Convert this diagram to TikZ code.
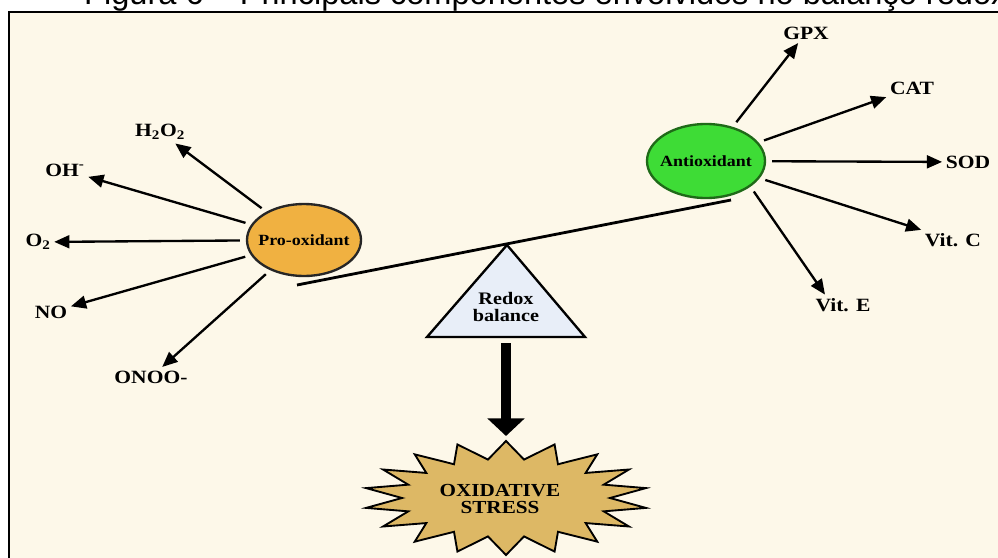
\documentclass[tikz,border=0pt]{standalone}
\usepackage{fontspec}
\setmainfont{Liberation Serif}[FakeStretch=1.15]
\newfontfamily\capfont{Liberation Sans}
\usetikzlibrary{arrows.meta,shapes.geometric}

\definecolor{cream}{HTML}{FDF8E9}
\definecolor{proorange}{HTML}{F0B141}
\definecolor{antigreen}{HTML}{3EDC36}
\definecolor{antiedge}{HTML}{1F6A18}
\definecolor{triblue}{HTML}{E8EEF8}
\definecolor{stargold}{HTML}{DDB865}

\tikzset{
	lbl/.style={font=\bfseries\fontsize{16}{18}\selectfont, inner sep=3pt},
	arr/.style={line width=2pt, -{Triangle[length=13pt,width=11pt]}, shorten <=5pt},
	blob/.style={ellipse, line width=2pt, inner sep=0pt, font=\bfseries\fontsize{13.3}{15}\selectfont},
	bigarr/.style={line width=8.5pt, -{Triangle[length=15pt,width=31pt]}},
}

\begin{document}
\begin{tikzpicture}[x=0.03cm,y=-0.03cm]
	\useasboundingbox (0,0) rectangle (998,558);
	\clip (0,0) rectangle (998,558);

	% caption (cut off at the top) and frame
	\node[font=\capfont\fontsize{27.8}{30}\selectfont, anchor=base west, inner sep=0pt] (caption) at (84,4) {Figura 6 – Principais componentes envolvidos no balanço redox};
	\draw[fill=cream, line width=2pt] (9,12) rectangle (1030,590);

	% the balance
	\draw[line width=2.4pt] (297,285) -- (731,200);
	\draw[fill=triblue, line width=2pt] (507,245) -- (427,337) -- (585,337) -- cycle;
	\node[font=\bfseries\fontsize{15}{14.5}\selectfont, align=center] (redox) at (506,307) {Redox\\balance};

	\node[blob, draw=black!85, fill=proorange, minimum width=3.42cm, minimum height=2.16cm] (pro) at (304,240) {\makebox[0pt]{Pro-oxidant}};
	\node[blob, draw=antiedge, fill=antigreen, minimum width=3.54cm, minimum height=2.22cm] (anti) at (706,161) {\makebox[0pt]{Antioxidant}};

	% pro-oxidant side
	\node[lbl] (h2o) at (160,132) {H\textsubscript{2}O\textsubscript{2}};
	\node[lbl] (oh) at (65,170) {OH\textsuperscript{-}};
	\node[lbl] (otwo) at (38,242) {O\textsubscript{2}};
	\node[lbl] (no) at (51,312) {NO};
	\node[lbl] (onoo) at (151,377) {ONOO-};
	\draw[arr] (pro) -- (h2o);
	\draw[arr] (pro) -- (oh);
	\draw[arr] (pro) -- (otwo);
	\draw[arr] (pro) -- (no);
	\draw[arr] (pro) -- (onoo);

	% antioxidant side
	\node[lbl] (gpx) at (806,33) {GPX};
	\node[lbl] (cat) at (912,88) {CAT};
	\node[lbl] (sod) at (968,162) {SOD};
	\node[lbl] (vitc) at (953,240) {Vit. C};
	\node[lbl] (vite) at (843,305) {Vit. E};
	\draw[arr] (anti) -- (gpx);
	\draw[arr] (anti) -- (cat);
	\draw[arr] (anti) -- (sod);
	\draw[arr] (anti) -- (vitc);
	\draw[arr] (anti.-30) -- (vite.150);

	% oxidative stress
	\draw[fill=stargold, line width=1.6pt, line join=miter]
		({506+142*cos(90)},{498-57*sin(90)})
		\foreach \a in {0,...,16}{
			-- ({506+104*cos(100+20*\a)},{498-39*sin(100+20*\a)})
			-- ({506+142*cos(110+20*\a)},{498-57*sin(110+20*\a)})
		}
		-- ({506+104*cos(440)},{498-39*sin(440)}) -- cycle;
	\node[font=\bfseries\fontsize{15.7}{14.5}\selectfont, align=center] (stress) at (500,499) {OXIDATIVE\\STRESS};

	\coordinate (tribase) at (506,343);
	\coordinate (startip) at (506,436);
	\draw[bigarr] (tribase) -- (startip);
\end{tikzpicture}
\end{document}
